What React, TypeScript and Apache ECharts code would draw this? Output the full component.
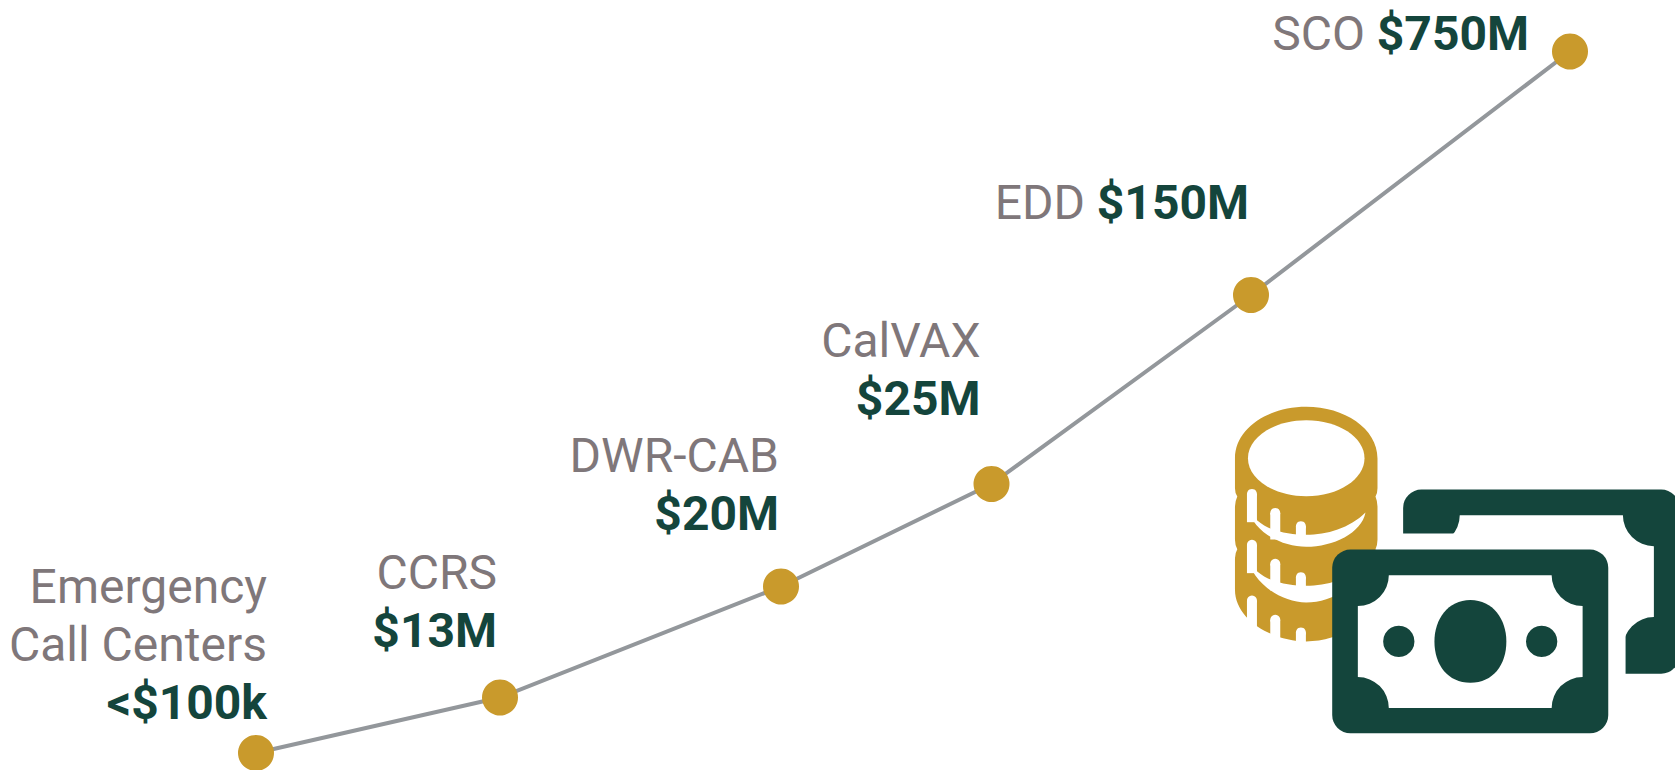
import React, { useEffect, useRef } from "react";
import * as echarts from "echarts";

const programNames = [["Emergency", "Call Centers"], ["CCRS"], ["DWR-CAB"], ["CalVAX"], ["EDD"], ["SCO"]];
const costLabels = ["<$100k", "$13M", "$20M", "$25M", "$150M", "$750M"];
const inlineLabel = [false, false, false, false, true, true];
const xValues = [256, 500, 781, 991.5, 1251, 1570];
const yValues = [17, 72.5, 183.5, 286, 475, 718.5];
const labelOffsets = [[29, -4], [15, -20], [16, -26], [7, -39], [16, -46], [-23, 29]];

const GOLD = "#C99A2C";
const GREEN = "#14453C";
const GREY = "#7F777A";
const WHITE = "#FFFFFF";

const coinBody = "M105,205 C105,115 205,50 319,50 C433,50 533,115 533,205 L533,295 Q533,310 527,320 Q533,335 533,350 L533,450 Q533,465 527,478 Q533,490 533,505 L533,600 C533,690 420,755 319,755 C218,755 105,690 105,600 L105,505 Q105,490 112,478 Q105,465 105,450 L105,350 Q105,335 112,320 Q105,310 105,295 Z";
const crescent1 = "M143,345 C150,420 240,471 319,471 C400,471 485,430 497,368 C450,415 380,435 319,435 C270,435 210,425 172,392 Z";
const crescent2 = "M143,498 C150,573 240,638 319,638 C400,638 485,583 497,521 C450,568 380,588 319,588 C270,588 210,578 172,545 Z";
const frontWindow = "M567,556 L1056,556 A93,93 0 0 0 1149,649 L1149,862 A93,93 0 0 0 1056,955 L567,955 A93,93 0 0 0 474,862 L474,649 A93,93 0 0 0 567,556 Z";
const backWindow = "M780,376 L1270,376 A93,93 0 0 0 1363,469 L1363,682 A93,93 0 0 0 1270,775 L687,775 L687,469 A93,93 0 0 0 780,376 Z";
const noteOval = "M812,631 C880,631 920,690 920,755 C920,825 880,879 812,879 C744,879 704,825 704,755 C704,690 744,631 812,631 Z";
echarts.graphic.registerShape("coinBody", echarts.graphic.extendPath(coinBody, {}));
echarts.graphic.registerShape("crescentA", echarts.graphic.extendPath(crescent1, {}));
echarts.graphic.registerShape("crescentB", echarts.graphic.extendPath(crescent2, {}));
echarts.graphic.registerShape("frontWindow", echarts.graphic.extendPath(frontWindow, {}));
echarts.graphic.registerShape("backWindow", echarts.graphic.extendPath(backWindow, {}));
echarts.graphic.registerShape("noteOval", echarts.graphic.extendPath(noteOval, {}));

const fill = (color: string) => ({ fill: color, stroke: "none" });
const rect = (x: number, y: number, width: number, height: number, color: string, r = 0) => ({
  type: "rect", shape: { x, y, width, height, r }, style: fill(color),
});
const circle = (cx: number, cy: number, r: number, color: string) => ({
  type: "circle", shape: { cx, cy, r }, style: fill(color),
});
const ellipse = (cx: number, cy: number, rx: number, ry: number, color: string) => ({
  type: "ellipse", shape: { cx, cy, rx, ry }, style: fill(color),
});
const tick = (x: number, y: number, h: number) => [
  circle(x + 15, y + 15, 15, WHITE),
  rect(x, y + 15, 30, h, WHITE),
];

const iconChildren: any[] = [
  { type: "coinBody", style: fill(GOLD) },
  ellipse(319, 205, 175, 114, WHITE),
  { type: "crescentA", style: fill(WHITE) },
  { type: "crescentB", style: fill(WHITE) },
  ...tick(141, 297, 85),
  ...tick(211, 354, 80),
  ...tick(288, 394, 45),
  ...tick(141, 450, 85),
  ...tick(211, 507, 80),
  ...tick(288, 547, 45),
  ...tick(141, 617, 90),
  ...tick(211, 675, 90),
  ...tick(288, 713, 60),
  // back note
  rect(610, 299, 830, 553, GREEN, 55),
  { type: "backWindow", style: fill(WHITE) },
  rect(600, 431, 678, 430, WHITE),
  // front note
  rect(397, 479, 829, 552, GREEN, 55),
  { type: "frontWindow", style: fill(WHITE) },
  { type: "noteOval", style: fill(GREEN) },
  circle(597, 755, 47, GREEN),
  circle(1026, 755, 47, GREEN),
];

export default function App() {
  const ref = useRef<HTMLDivElement>(null);
  useEffect(() => {
    const chart = echarts.init(ref.current!, null, { renderer: "svg" });
    const points = xValues.map((x, i) => {
      const name = programNames[i];
      const text = inlineLabel[i]
        ? `{name|${name.join(" ")} }{cost|${costLabels[i]}}`
        : [...name.map((l) => `{name|${l}}`), `{cost|${costLabels[i]}}`].join("\n");
      return {
        value: [x, yValues[i]],
        label: {
          show: true,
          position: labelOffsets[i],
          align: "right",
          verticalAlign: "bottom",
          formatter: text,
          rich: {
            name: { fontFamily: "Roboto", fontSize: 48, fontWeight: 400, color: GREY, lineHeight: 58, align: "right" },
            cost: { fontFamily: "Roboto", fontSize: 48, fontWeight: 700, color: GREEN, lineHeight: 58, align: "right" },
          },
        },
      };
    });
    chart.setOption({
      animation: false,
      grid: { left: 0, top: 0, width: 1675, height: 770 },
      xAxis: { type: "value", min: 0, max: 1675, show: false },
      yAxis: { type: "value", min: 0, max: 770, show: false },
      series: [
        {
          type: "line",
          data: points,
          clip: false,
          symbol: "circle",
          symbolSize: 36,
          showSymbol: true,
          lineStyle: { color: "#93979B", width: 4 },
          itemStyle: { color: GOLD },
        },
      ],
      graphic: [{ type: "group", x: 1200, y: 390, scaleX: 1 / 3, scaleY: 1 / 3, children: iconChildren }],
    });
    return () => chart.dispose();
  }, []);
  return <div ref={ref} style={{ position: "absolute", left: 0, top: 0, width: 1675, height: 770, background: "#fff" }} />;
}
